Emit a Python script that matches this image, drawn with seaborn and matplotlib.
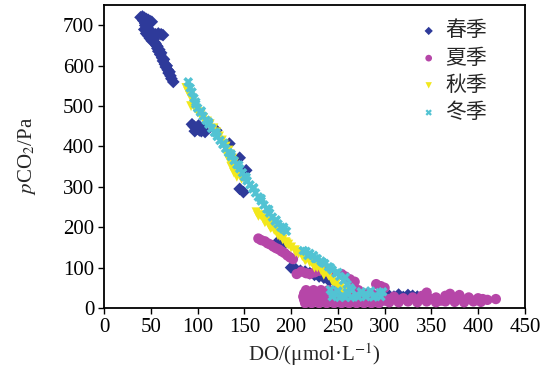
import matplotlib
matplotlib.use("Agg")
import matplotlib.pyplot as plt
import seaborn as sns
import pandas as pd

# ---- data ----
spring_x = [39, 41, 43, 45, 47, 49, 51, 44, 46, 48, 50, 47, 52, 55, 58, 61, 63,
            53, 54, 56, 57, 58, 60, 62, 63, 65, 66, 68, 69, 71, 72, 74,
            42, 44, 46, 43, 45, 49, 51, 55, 57, 59, 61, 64, 67, 70,
            94, 96, 98, 100, 102, 104, 106, 108, 97, 101, 105,
            120, 134, 145, 152, 145, 149, 185, 190,
            200, 205, 210, 215, 220, 225, 230, 235, 241,
            295, 300, 305, 310, 315, 320, 325, 330, 335, 340]
spring_y = [720, 722, 719, 716, 714, 711, 709, 700, 695, 690, 685, 675, 672, 678, 680, 678, 676,
            665, 658, 650, 643, 636, 628, 620, 612, 604, 597, 590, 582, 575, 568, 560,
            712, 705, 702, 690, 680, 668, 662, 655, 648, 640, 632, 616, 600, 585,
            455, 450, 446, 444, 440, 438, 442, 436, 438, 452, 447,
            440, 407, 372, 341, 295, 287, 162, 152,
            100, 96, 92, 90, 86, 82, 78, 75, 67,
            38, 32, 30, 28, 33, 27, 32, 30, 28, 26]

summer_x = [165, 168, 172, 175, 178, 181, 184, 187, 190, 193, 196, 199, 202,
            206, 211, 216, 220, 225, 230, 235, 240, 254, 258, 263, 268, 291, 296, 300,
            215, 222, 230, 238, 246, 254, 262, 270, 278, 286, 294,
            214, 221, 229, 237, 245, 253, 261, 269, 277, 285, 293, 301,
            213, 220, 228, 236, 244, 252, 260, 268, 276, 284, 292,
            214, 222, 230, 238, 246, 254, 262, 270, 278, 286,
            216, 224, 232, 240, 248, 256, 264, 272,
            300, 305, 310, 315, 320, 325, 330, 335, 340, 345, 350, 355, 360, 365, 370,
            375, 380, 385, 390, 395, 400, 405, 410, 419,
            305, 315, 325, 335, 345, 355, 365, 375, 385, 395, 403]
summer_y = [172, 168, 165, 160, 157, 152, 148, 145, 140, 136, 130, 125, 121,
            84, 90, 86, 84, 88, 92, 97, 88, 84, 78, 71, 65, 59, 54, 50,
            12, 12, 12, 12, 12, 12, 12, 12, 12, 12, 12,
            20, 20, 20, 20, 20, 20, 20, 20, 20, 20, 20, 20,
            28, 28, 28, 28, 28, 28, 28, 28, 28, 28, 28,
            36, 36, 36, 36, 36, 36, 36, 36, 36, 36,
            44, 44, 44, 44, 44, 44, 44, 44,
            18, 22, 28, 20, 24, 18, 26, 20, 30, 38, 22, 26, 18, 30, 35,
            24, 32, 20, 26, 18, 24, 22, 20, 22,
            14, 14, 16, 14, 16, 14, 16, 15, 14, 16, 15]

autumn_x = [88, 90, 92, 95, 93, 97, 100, 103, 106, 110, 113, 117, 120, 123, 126,
            128, 130, 133, 135, 137, 139, 141, 143, 145, 147,
            163, 167, 170, 173, 176, 179, 182, 185, 188, 191, 194, 197, 200, 204,
            208, 212, 216, 220, 224, 228, 232, 236, 240, 244, 248, 252, 255, 258, 262,
            131, 134, 136, 139, 142, 165, 172, 178, 186, 195, 205, 215, 225, 235, 245]
autumn_y = [545, 535, 525, 515, 500, 495, 485, 478, 470, 462, 455, 445, 435, 425, 415,
            405, 400, 390, 380, 370, 360, 350, 340, 330, 320,
            237, 230, 222, 215, 207, 200, 193, 186, 178, 170, 163, 157, 150, 143,
            135, 128, 120, 113, 106, 100, 94, 87, 80, 70, 60, 50, 45, 40, 38,
            380, 365, 350, 335, 325, 228, 212, 198, 180, 160, 138, 118, 100, 82, 62]

winter_x = [90, 92, 94, 96, 98, 100, 103, 106, 109, 112, 115, 118, 121, 124, 127,
            130, 133, 136, 139, 142, 145, 148, 150, 153, 156, 159, 162, 165, 168,
            171, 174, 177, 180, 183, 186, 189, 192, 195,
            213, 216, 220, 224, 228, 232, 236, 240, 244, 248, 252, 256, 260, 263,
            242, 245, 250, 255, 260, 265, 270, 275, 280, 285, 290, 295, 298,
            244, 252, 258, 264, 272, 280, 288, 296,
            98, 104, 112, 120, 128, 136, 144, 152, 160, 168, 176, 184, 192,
            218, 226, 234, 242, 250, 258]
winter_y = [560, 545, 535, 520, 505, 495, 485, 475, 465, 455, 445, 435, 425, 415, 405,
            395, 385, 375, 365, 355, 345, 335, 325, 315, 305, 295, 285, 275, 265,
            255, 245, 235, 225, 215, 208, 200, 195, 190,
            142, 140, 135, 130, 122, 116, 110, 102, 94, 86, 78, 68, 58, 50,
            45, 35, 42, 30, 38, 44, 32, 40, 35, 42, 30, 38, 40,
            28, 26, 27, 26, 27, 28, 27, 28,
            510, 488, 460, 434, 408, 381, 354, 324, 298, 271, 244, 218, 200,
            130, 122, 112, 100, 88, 76]

seasons = ["春季", "夏季", "秋季", "冬季"]
x_ticks = [0, 50, 100, 150, 200, 250, 300, 350, 400, 450]
y_ticks = [0, 100, 200, 300, 400, 500, 600, 700]

# ---- styling ----
sns.set_style("ticks")
plt.rcParams["font.family"] = ["Liberation Serif", "Noto Sans CJK SC"]
plt.rcParams["mathtext.fontset"] = "stix"

colors = {"春季": "#2E3A9A", "夏季": "#B646A8", "秋季": "#F2E81C", "冬季": "#52C3D3"}
markers = {"春季": "D", "夏季": "o", "秋季": "v", "冬季": "X"}
sizes = {"春季": 42, "夏季": 55, "秋季": 50, "冬季": 50}

series = {
    "春季": (spring_x, spring_y),
    "夏季": (summer_x, summer_y),
    "秋季": (autumn_x, autumn_y),
    "冬季": (winter_x, winter_y),
}

fig, ax = plt.subplots(figsize=(5.45, 3.71), dpi=100)
fig.subplots_adjust(left=0.191, right=0.963, bottom=0.170, top=0.987)

for name in seasons:
    xs, ys = series[name]
    df = pd.DataFrame({"DO": xs, "pCO2": ys})
    sns.scatterplot(data=df, x="DO", y="pCO2", ax=ax, color=colors[name],
                    marker=markers[name], s=sizes[name], edgecolor="none",
                    linewidth=0, label=name, zorder=3)

ax.set_xlim(0, 450)
ax.set_ylim(0, 751)
ax.set_xticks(x_ticks)
ax.set_yticks(y_ticks)
ax.tick_params(axis="both", labelsize=15, direction="out", length=4, width=1,
               colors="black", pad=3)
for sp in ax.spines.values():
    sp.set_visible(True)
    sp.set_color("black")
    sp.set_linewidth(1.3)

ax.set_xlabel(r"DO/(μmol·L$^{-1}$)", fontsize=15, labelpad=3)
ax.set_ylabel(r"$p$CO$_2$/Pa", fontsize=15, labelpad=18)

leg = ax.legend(loc="upper right", frameon=False,
                prop={"family": ["Noto Sans CJK SC"], "size": 15},
                handlelength=0.8, handletextpad=0.4, labelspacing=0.25,
                markerscale=0.65, borderaxespad=0.3,
                bbox_to_anchor=(0.945, 1.0))

fig.savefig("out.png", dpi=100)
